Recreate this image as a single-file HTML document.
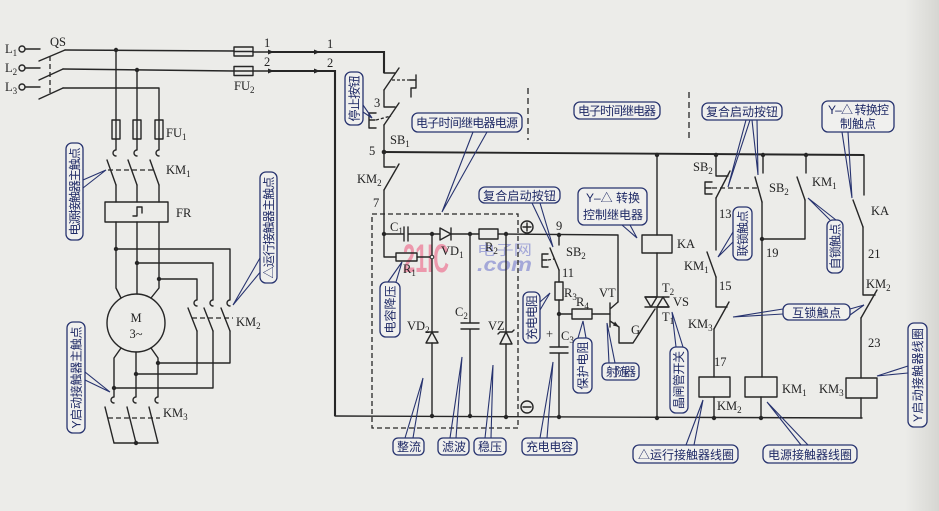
<!DOCTYPE html>
<html><head><meta charset="utf-8">
<style>
html,body{margin:0;padding:0;background:#ecece9;}
svg{display:block}
.w{stroke:#262626;stroke-width:1.4;fill:none;stroke-linecap:round;stroke-linejoin:round}
.th{stroke:#262626;stroke-width:2.1;fill:none}
.ds{stroke:#262626;stroke-width:1.3;fill:none;stroke-dasharray:5 3}
.dot{fill:#262626}
.s{font-family:"Liberation Serif",serif;font-size:12.5px;fill:#222}
.cb{fill:#f0f0ee;stroke:#27336f;stroke-width:1.3}
.tl{fill:none;stroke:#27336f;stroke-width:1.1}
.ct{font-family:"Liberation Sans","Noto Sans CJK SC",sans-serif;font-size:12px;fill:#1f2a66}
</style></head><body>
<svg width="939" height="511" viewBox="0 0 939 511" xmlns="http://www.w3.org/2000/svg">
<defs>
<linearGradient id="edge" x1="0" x2="1" y1="0" y2="0">
<stop offset="0" stop-color="#ecece9"/><stop offset="1" stop-color="#d6d6d2"/>
</linearGradient>
</defs>
<rect width="939" height="511" fill="#ecece9"/>
<rect x="905" y="0" width="34" height="511" fill="url(#edge)"/>

<!-- watermark -->
<text x="403" y="272" font-family="Liberation Sans,sans-serif" font-weight="bold" font-size="40" fill="#ec98ac" textLength="46" lengthAdjust="spacingAndGlyphs">21IC</text>
<text x="477" y="255" font-family="Liberation Sans,'Noto Sans CJK SC',sans-serif" font-size="14" fill="#a4a8d8" textLength="55" lengthAdjust="spacingAndGlyphs">电子网</text>
<text x="477" y="271" font-family="Liberation Sans,sans-serif" font-style="italic" font-weight="bold" font-size="19" fill="#a4a8d8" textLength="55" lengthAdjust="spacingAndGlyphs">.com</text>

<!-- ================= POWER CIRCUIT ================= -->
<g class="w">
<circle cx="22" cy="49" r="3"/><line x1="25" y1="49" x2="40" y2="49"/>
<circle cx="22" cy="68" r="3"/><line x1="25" y1="68" x2="40" y2="68"/>
<circle cx="22" cy="87" r="3"/><line x1="25" y1="87" x2="40" y2="87"/>
<line x1="39" y1="61" x2="65" y2="50"/>
<line x1="39" y1="80" x2="63" y2="69"/>
<line x1="39" y1="99" x2="63" y2="88"/>
<path d="M65,50 L234,51"/>
<path d="M63,69 L234,71"/>
<path d="M63,88 L159,88 L159,120"/>
<rect x="234" y="47" width="19" height="9"/>
<rect x="234" y="66.5" width="19" height="9"/>
<path d="M234,51.5 L253,51.5 M234,71 L253,71"/>
<path d="M253,52 L270,52 M253,71 L270,71"/>
<path d="M116,50 L116,120 M137,70 L137,120"/>
<rect x="112" y="120" width="8" height="19"/>
<rect x="133" y="120" width="8" height="19"/>
<rect x="155" y="120" width="8" height="19"/>
<path d="M116,120 L116,139 M137,120 L137,139 M159,120 L159,139"/>
<path d="M116,139 L116,150 A3,3 0 0 0 116,156"/>
<path d="M137,139 L137,150 A3,3 0 0 0 137,156"/>
<path d="M159,139 L159,150 A3,3 0 0 0 159,156"/>
<line x1="107" y1="160" x2="116" y2="185"/>
<line x1="128" y1="160" x2="137" y2="185"/>
<line x1="150" y1="160" x2="159" y2="185"/>
<path d="M116,185 L116,202 M137,185 L137,202 M159,185 L159,202"/>
<rect x="105" y="202" width="63" height="20"/>
<path d="M133,216 L137,216 L137,207 L142,207 L142,213"/>
<path d="M116,222 L116,288 L121,298 M137,222 L137,294 M159,222 L159,288 L151,298"/>
<circle cx="136" cy="323" r="29"/>
<path d="M116,249 L230,249 L230,300 A3,3 0 0 0 230,306"/>
<path d="M137,263 L213,263 L213,300 A3,3 0 0 0 213,306"/>
<path d="M159,279 L197,279 L197,300 A3,3 0 0 0 197,306"/>
<line x1="188" y1="308" x2="197" y2="331"/>
<line x1="204" y1="308" x2="213" y2="331"/>
<line x1="221" y1="308" x2="230" y2="331"/>
<path d="M197,331 L197,374 L136,374 M213,331 L213,388 L114,388 M230,331 L230,363 L158,363"/>
<path d="M121,348 L114,358 L114,397 A3,3 0 0 0 114,403"/>
<path d="M136,352 L136,397 A3,3 0 0 0 136,403"/>
<path d="M151,348 L158,358 L158,397 A3,3 0 0 0 158,403"/>
<line x1="105" y1="407" x2="114" y2="443"/>
<line x1="127" y1="407" x2="136" y2="443"/>
<line x1="149" y1="407" x2="158" y2="443"/>
<path d="M114,443 L158,443"/>
</g>
<g class="ds">
<line x1="50" y1="56" x2="50" y2="96"/>
<line x1="108" y1="170" x2="156" y2="170"/>
<line x1="192" y1="318" x2="233" y2="318"/>
<line x1="108" y1="418" x2="160" y2="418"/>
</g>
<g class="dot">
<circle cx="116" cy="50" r="2.2"/><circle cx="137" cy="70" r="2.2"/>
<circle cx="116" cy="249" r="2.2"/><circle cx="137" cy="263" r="2.2"/><circle cx="159" cy="279" r="2.2"/>
<circle cx="158" cy="363" r="2.2"/><circle cx="136" cy="374" r="2.2"/><circle cx="114" cy="388" r="2.2"/>
<circle cx="136" cy="443" r="2.2"/>
<polygon points="268,49.5 274,52 268,54.5"/><polygon points="314,49.5 320,52 314,54.5"/>
<polygon points="268,68.5 274,71 268,73.5"/><polygon points="314,68.5 320,71 314,73.5"/>
</g>
<path class="th" d="M270,52 L384,52 L384,73"/>
<path class="th" d="M270,71 L335,71 L335,416"/>

<!-- ================= CONTROL CIRCUIT ================= -->
<g class="w">
<path d="M384,73 L395,73"/>
<line x1="384" y1="90" x2="399" y2="68"/>
<path d="M410,80 L416,80 M416,75 L416,88 L411,88 L411,97"/>
<path d="M384,90 L384,107 L395,107"/>
<line x1="384" y1="125" x2="399" y2="103"/>
<path d="M376,113 L369,113 L369,128 L376,128 M369,120 L375,120"/>
<path d="M384,125 L384,152 L384,167 L395,167"/>
<line x1="384" y1="190" x2="399" y2="164"/>
<path d="M384,190 L384,257 L396,257"/>
<rect x="396" y="253" width="21" height="8"/>
<path d="M417,257 L432,257"/>
<path d="M384,234 L404,234 M404,227 L404,241 M408,227 L408,241 M408,234 L440,234"/>
<polygon points="440,228 440,240 451,234"/>
<path d="M451,228 L451,240 M451,234 L479,234"/>
<rect x="479" y="229" width="19" height="10"/>
<path d="M498,234 L618,235 L618,302"/>
<path d="M432,234 L432,332 M426,332 L438,332 M432,343 L432,416"/>
<polygon points="426,343 438,343 432,332"/>
<path d="M470,234 L470,323 M461,323 L479,323 M461,329 L479,329 M470,329 L470,416"/>
<path d="M506,234 L506,332 M498,334 L500,332 L512,332 L514,330 M506,344 L506,416"/>
<polygon points="500,344 512,344 506,332"/>
<path d="M335,416 L862,418"/>
<path d="M559,235 L559,245"/>
<line x1="550" y1="248" x2="559" y2="270"/>
<path d="M548,254 L542,254 L542,267 L548,267 M542,260 L547,260"/>
<path d="M559,270 L559,282"/>
<rect x="555" y="282" width="8" height="18"/>
<path d="M559,300 L559,347 M550,347 L568,347 M550,353 L568,353 M559,353 L559,417"/>
<path d="M559,314 L572,314"/>
<rect x="572" y="309" width="20" height="10"/>
<path d="M592,314 L610,314"/>
<path d="M610,303 L610,327 M610,309 L618,302"/>
<path d="M610,321 L619,327 L619,343 L633,343 L655,309"/>
<path d="M657,155 L657,235"/>
<rect x="642" y="235" width="30" height="18"/>
<path d="M657,253 L657,297 M645,297 L669,297 M645,307 L669,307 M657,307 L657,418"/>
<polygon points="645,297 657,297 651,307"/>
<polygon points="657,307 669,307 663,297"/>
<path d="M864,155 L864,195"/>
<path d="M716,155 L716,176 L728,176"/>
<line x1="716" y1="198" x2="730" y2="171"/>
<path d="M712,182 L705,182 L705,194 L712,194 M705,188 L711,188"/>
<path d="M716,198 L716,250"/>
<line x1="707" y1="252" x2="716" y2="277"/>
<path d="M716,277 L716,307 L727,307"/>
<line x1="714" y1="329" x2="729" y2="302"/>
<path d="M714,329 L714,377"/>
<rect x="699" y="377" width="31" height="20"/>
<path d="M714,397 L714,418"/>
<path d="M763,155 L763,173"/>
<line x1="755" y1="177" x2="762" y2="202"/>
<path d="M762,202 L762,377"/>
<rect x="745" y="377" width="32" height="20"/>
<path d="M761,397 L761,418"/>
<path d="M806,155 L806,173"/>
<line x1="797" y1="177" x2="805" y2="200"/>
<path d="M805,200 L805,239 L762,239"/>
<line x1="853" y1="200" x2="863" y2="227"/>
<path d="M863,227 L863,295 L875,295"/>
<line x1="861" y1="318" x2="877" y2="290"/>
<path d="M861,318 L861,378"/>
<rect x="846" y="378" width="31" height="20"/>
<path d="M861,398 L861,418"/>
<circle cx="527" cy="227" r="6"/>
<circle cx="527" cy="407" r="6"/>
<path d="M523,227 L531,227 M527,223 L527,231 M523,407 L531,407"/>
</g>
<path d="M384,152 L864,155" stroke="#262626" stroke-width="1.9" fill="none"/>
<polygon class="dot" points="613,325.5 619,327 615,321.5"/>
<g class="ds">
<line x1="392" y1="80" x2="410" y2="80" stroke-dasharray="3 2"/>
<line x1="376" y1="120" x2="391" y2="116" stroke-dasharray="3 2"/>
<line x1="548" y1="260" x2="554" y2="259" stroke-dasharray="3 2"/>
<line x1="712" y1="188" x2="758" y2="188"/>
<rect x="372" y="214" width="146" height="214"/>
<line x1="528" y1="88" x2="528" y2="140" stroke-dasharray="6 4"/>
<line x1="689" y1="92" x2="689" y2="142" stroke-dasharray="6 4"/>
</g>
<g class="dot">
<circle cx="384" cy="152" r="2.3"/><circle cx="384" cy="234" r="2.2"/>
<circle cx="432" cy="234" r="2.2"/><circle cx="470" cy="234" r="2.2"/><circle cx="506" cy="234" r="2.2"/>
<circle cx="559" cy="235" r="2.2"/><circle cx="559" cy="314" r="2.2"/>
<circle cx="432" cy="416" r="2.2"/><circle cx="470" cy="416" r="2.2"/><circle cx="506" cy="417" r="2.2"/><circle cx="559" cy="417" r="2.2"/>
<circle cx="657" cy="155" r="2.2"/><circle cx="716" cy="155" r="2.2"/><circle cx="763" cy="155" r="2.2"/><circle cx="806" cy="155" r="2.2"/>
<circle cx="762" cy="239" r="2.2"/>
<circle cx="657" cy="418" r="2.2"/><circle cx="714" cy="418" r="2.2"/><circle cx="761" cy="418" r="2.2"/>
</g>
<circle cx="432" cy="257" r="1.8" fill="#ecece9" stroke="#262626" stroke-width="1"/>

<!-- ================= SERIF LABELS ================= -->
<g class="s">
<text x="5" y="53">L<tspan dy="3" font-size="9">1</tspan></text>
<text x="5" y="72">L<tspan dy="3" font-size="9">2</tspan></text>
<text x="5" y="91">L<tspan dy="3" font-size="9">3</tspan></text>
<text x="50" y="46">QS</text>
<text x="264" y="47">1</text><text x="264" y="66">2</text>
<text x="234" y="90">FU<tspan dy="3" font-size="9">2</tspan></text>
<text x="327" y="48">1</text><text x="327" y="67">2</text>
<text x="166" y="137">FU<tspan dy="3" font-size="9">1</tspan></text>
<text x="166" y="174">KM<tspan dy="3" font-size="9">1</tspan></text>
<text x="176" y="217">FR</text>
<text x="136" y="322" text-anchor="middle">M</text>
<text x="136" y="338" text-anchor="middle">3~</text>
<text x="236" y="326">KM<tspan dy="3" font-size="9">2</tspan></text>
<text x="163" y="417">KM<tspan dy="3" font-size="9">3</tspan></text>
<text x="374" y="107">3</text>
<text x="390" y="144">SB<tspan dy="3" font-size="9">1</tspan></text>
<text x="369" y="155">5</text>
<text x="357" y="183">KM<tspan dy="3" font-size="9">2</tspan></text>
<text x="373" y="207">7</text>
<text x="390" y="231">C<tspan dy="3" font-size="9">1</tspan></text>
<text x="403" y="273">R<tspan dy="3" font-size="9">1</tspan></text>
<text x="441" y="255">VD<tspan dy="3" font-size="9">1</tspan></text>
<text x="485" y="251">R<tspan dy="3" font-size="9">2</tspan></text>
<text x="407" y="330">VD<tspan dy="3" font-size="9">2</tspan></text>
<text x="455" y="316">C<tspan dy="3" font-size="9">2</tspan></text>
<text x="488" y="330">VZ</text>
<text x="556" y="230">9</text>
<text x="566" y="256">SB<tspan dy="3" font-size="9">2</tspan></text>
<text x="562" y="277">11</text>
<text x="564" y="297">R<tspan dy="3" font-size="9">3</tspan></text>
<text x="599" y="297">VT</text>
<text x="576" y="306">R<tspan dy="3" font-size="9">4</tspan></text>
<text x="561" y="340">C<tspan dy="3" font-size="9">3</tspan></text>
<text x="546" y="338">+</text>
<text x="631" y="334">G</text>
<text x="677" y="248">KA</text>
<text x="662" y="292">T<tspan dy="3" font-size="9">2</tspan></text>
<text x="673" y="306">VS</text>
<text x="662" y="321">T<tspan dy="3" font-size="9">1</tspan></text>
<text x="693" y="171">SB<tspan dy="3" font-size="9">2</tspan></text>
<text x="769" y="192">SB<tspan dy="3" font-size="9">2</tspan></text>
<text x="812" y="186">KM<tspan dy="3" font-size="9">1</tspan></text>
<text x="871" y="215">KA</text>
<text x="719" y="218">13</text>
<text x="684" y="270">KM<tspan dy="3" font-size="9">1</tspan></text>
<text x="766" y="257">19</text>
<text x="868" y="258">21</text>
<text x="719" y="290">15</text>
<text x="866" y="288">KM<tspan dy="3" font-size="9">2</tspan></text>
<text x="688" y="328">KM<tspan dy="3" font-size="9">3</tspan></text>
<text x="714" y="366">17</text>
<text x="868" y="347">23</text>
<text x="717" y="410">KM<tspan dy="3" font-size="9">2</tspan></text>
<text x="782" y="393">KM<tspan dy="3" font-size="9">1</tspan></text>
<text x="819" y="393">KM<tspan dy="3" font-size="9">3</tspan></text>
</g>

<!-- ================= CALLOUTS ================= -->
<g class="tl">
<path d="M83,180 L106,170 L83,188"/>
<path d="M260,258 L233,305 L262,270"/>
<path d="M85,372 L110,392 L85,380"/>
<path d="M363,105 L372,118 L363,112"/>
<path d="M473,132 L442,212 L487,132"/>
<path d="M532,203 L553,247 L540,203"/>
<path d="M622,225 L637,238 L630,225"/>
<path d="M746,120 L728,187 L750,120"/>
<path d="M752,120 L758,175 L757,120"/>
<path d="M842,132 L852,198 L848,132"/>
<path d="M783,309 L733,317 L783,314"/>
<path d="M850,309 L864,305 L850,315"/>
<path d="M405,438 L423,378 L413,438"/>
<path d="M450,438 L462,357 L456,438"/>
<path d="M485,438 L493,365 L491,438"/>
<path d="M540,438 L553,362 L547,438"/>
<path d="M686,445 L703,400 L694,445"/>
<path d="M801,445 L767,402 L808,445"/>
<path d="M609,363 L607,323 L615,363"/>
<path d="M388,282 L402,262 L396,282"/>
<path d="M540,302 L550,293 L540,310"/>
<path d="M578,338 L583,321 L586,338"/>
<path d="M676,347 L672,312 L683,347"/>
<path d="M733,232 L718,257 L733,242"/>
<path d="M830,220 L808,198 L836,220"/>
<path d="M908,366 L877,376 L908,373"/>
</g>
<g>
<rect class="cb" x="412" y="113" width="110" height="19" rx="6"/>
<rect class="cb" x="574" y="102" width="86" height="17" rx="6"/>
<rect class="cb" x="479" y="187" width="81" height="16" rx="6"/>
<rect class="cb" x="578" y="188" width="69" height="37" rx="6"/>
<rect class="cb" x="702" y="103" width="80" height="17" rx="6"/>
<rect class="cb" x="822" y="101" width="72" height="31" rx="6"/>
<rect class="cb" x="783" y="304" width="67" height="16" rx="6"/>
<rect class="cb" x="393" y="438" width="31" height="17" rx="5"/>
<rect class="cb" x="438" y="438" width="31" height="17" rx="5"/>
<rect class="cb" x="474" y="438" width="32" height="17" rx="5"/>
<rect class="cb" x="522" y="438" width="55" height="17" rx="5"/>
<rect class="cb" x="633" y="445" width="105" height="18" rx="6"/>
<rect class="cb" x="763" y="445" width="94" height="18" rx="6"/>
<rect class="cb" x="602" y="363" width="37" height="17" rx="5"/>
<rect class="cb" x="345" y="72" width="18" height="53" rx="6"/>
<rect class="cb" x="380" y="282" width="20" height="55" rx="6"/>
<rect class="cb" x="523" y="292" width="17" height="51" rx="6"/>
<rect class="cb" x="573" y="338" width="19" height="55" rx="6"/>
<rect class="cb" x="670" y="347" width="18" height="66" rx="6"/>
<rect class="cb" x="733" y="207" width="19" height="53" rx="6"/>
<rect class="cb" x="827" y="220" width="16" height="53" rx="6"/>
<rect class="cb" x="908" y="323" width="19" height="104" rx="6"/>
<rect class="cb" x="66" y="143" width="17" height="97" rx="6"/>
<rect class="cb" x="260" y="172" width="17" height="111" rx="6"/>
<rect class="cb" x="67" y="322" width="18" height="111" rx="6"/>
</g>
<g class="ct">
<text x="416" y="127" textLength="102">电子时间继电器电源</text>
<text x="578" y="115" textLength="78">电子时间继电器</text>
<text x="483" y="200" textLength="73">复合启动按钮</text>
<text x="586" y="202" textLength="54">Y–△ 转换</text>
<text x="583" y="219" textLength="60">控制继电器</text>
<text x="706" y="116" textLength="72">复合启动按钮</text>
<text x="828" y="114" textLength="61">Y–△ 转换控</text>
<text x="840" y="128" textLength="36">制触点</text>
<text x="792" y="317" textLength="49">互锁触点</text>
<text x="397" y="451" textLength="24">整流</text>
<text x="442" y="451" textLength="24">滤波</text>
<text x="478" y="451" textLength="24">稳压</text>
<text x="526" y="451" textLength="47">充电电容</text>
<text x="638" y="459" textLength="96">△运行接触器线圈</text>
<text x="768" y="459" textLength="84">电源接触器线圈</text>
<text x="606" y="376" textLength="30">射随器</text>
<text transform="translate(358.5,98.5) rotate(-90)" text-anchor="middle" textLength="46">停止按钮</text>
<text transform="translate(394.5,309.5) rotate(-90)" text-anchor="middle" textLength="48">电容降压</text>
<text transform="translate(536,317.5) rotate(-90)" text-anchor="middle" textLength="45">充电电阻</text>
<text transform="translate(587,365.5) rotate(-90)" text-anchor="middle" textLength="48">保护电阻</text>
<text transform="translate(683,380) rotate(-90)" text-anchor="middle" textLength="58">晶闸管开关</text>
<text transform="translate(747,233.5) rotate(-90)" text-anchor="middle" textLength="46">联锁触点</text>
<text transform="translate(839.5,246.5) rotate(-90)" text-anchor="middle" textLength="46">自锁触点</text>
<text transform="translate(922,375) rotate(-90)" text-anchor="middle" textLength="94">Y启动接触器线圈</text>
<text transform="translate(79,191.5) rotate(-90)" text-anchor="middle" textLength="88">电源接触器主触点</text>
<text transform="translate(273,227.5) rotate(-90)" text-anchor="middle" textLength="102">△运行接触器主触点</text>
<text transform="translate(80.5,377.5) rotate(-90)" text-anchor="middle" textLength="102">Y启动接触器主触点</text>
</g>
</svg>
</body></html>
